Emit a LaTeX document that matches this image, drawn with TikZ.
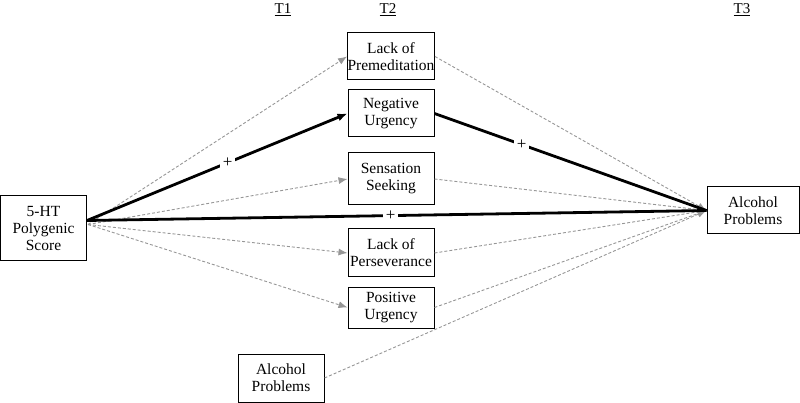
\documentclass[tikz,border=0pt]{standalone}
\usepackage{fontspec}
\setmainfont{Liberation Serif}
\usetikzlibrary{arrows.meta}
\definecolor{lg}{RGB}{150,150,150}
\tikzset{
  box/.style={draw=black, line width=1pt, inner sep=0pt, align=center, minimum width=86pt, font=\fontsize{15.5}{17}\selectfont},
  dpath/.style={draw=lg, line width=0.9pt, dash pattern=on 3pt off 2pt, -{Latex[length=9pt,width=7pt]}, color=lg},
  tpath/.style={draw=black, line width=2.8pt, -{Latex[length=10pt,width=8pt]}},
  tline/.style={draw=black, line width=2.8pt},
  plus/.style={fill=white, inner sep=3pt, font=\fontsize{17}{17}\selectfont},
  tlab/.style={font=\fontsize{15}{15}\selectfont}
}
\begin{document}
\begin{tikzpicture}[x=1pt,y=-1pt]
\useasboundingbox (0,0) rectangle (800,403);
% time labels
\node[tlab] (t1) at (283,10) {\underline{T1}};
\node[tlab] (t2) at (388,10) {\underline{T2}};
\node[tlab] (t3) at (742,10) {\underline{T3}};
% nodes
\node[box, minimum height=65pt] (ht) at (43.5,228.5) {5-HT\\Polygenic\\Score};
\node[box, minimum height=47pt] (lp) at (391,56.5) {Lack of\\Premeditation};
\node[box, minimum height=47pt] (nu) at (391,113.5) {Negative\\Urgency};
\node[box, minimum height=52pt] (ss) at (391,179) {Sensation\\Seeking};
\node[box, minimum height=48pt] (lper) at (391,253) {Lack of\\Perseverance};
\node[box, minimum height=41pt] (pu) at (391,307.5) {Positive\\Urgency};
\node[box, minimum width=92pt, minimum height=47pt] (ap3) at (753,210.5) {Alcohol\\Problems};
\node[box, minimum height=48pt] (ap1) at (281,378) {Alcohol\\Problems};
\coordinate (hs) at ([yshift=8pt]ht.east);
\coordinate (hd) at ([yshift=4pt,xshift=1pt]ht.east);
% dashed paths from predictor
\draw[dpath] (hd) -- (lp.west);
\draw[dpath] (hd) -- (ss.west);
\draw[dpath] (hd) -- (lper.west);
\draw[dpath] (hd) -- (pu.west);
% dashed paths to outcome
\draw[dpath] (lp.east) -- (ap3.west);
\draw[dpath] (ss.east) -- (ap3.west);
\draw[dpath] (lper.east) -- (ap3.west);
\draw[dpath] (pu.east) -- (ap3.west);
\draw[dpath] (ap1.east) -- (ap3.west);
% thick significant paths
\draw[tpath] (hs) -- node[plus, pos=0.54] (p1) {+} (nu.west);
\draw[tline] (nu.east) -- node[plus, pos=0.32] (p2) {+} (ap3.west);
\draw[tline] (hs) -- node[plus, pos=0.49] (p3) {+} (ap3.west);
\end{tikzpicture}
\end{document}
